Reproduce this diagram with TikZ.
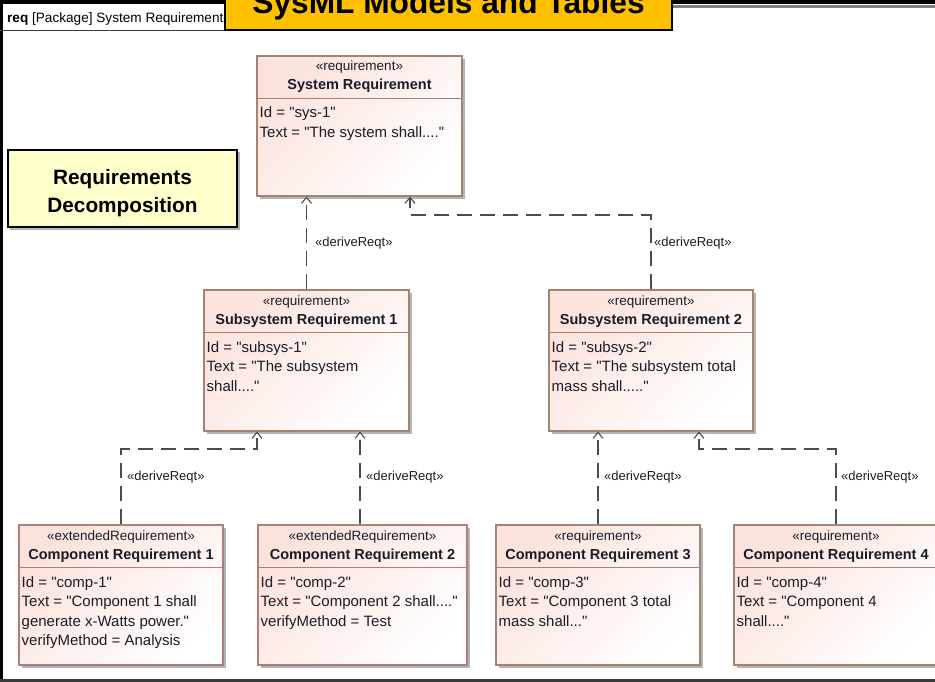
\documentclass[tikz,border=0pt]{standalone}
\usepackage{fontspec}
\setmainfont{Liberation Sans}[Ligatures=TeXOff]
\usetikzlibrary{arrows.meta,fit}

\definecolor{titleorange}{HTML}{FFC000}
\definecolor{noteyellow}{HTML}{FFFFCC}
\definecolor{reqpink}{HTML}{FCE2DC}
\definecolor{reqedge}{HTML}{A38472}
\definecolor{extedge}{HTML}{B27C7C}
\definecolor{shadowgrey}{HTML}{B4B4B4}
\definecolor{linkgrey}{HTML}{4C4C4C}
\definecolor{inkdark}{HTML}{1C1C26}
\definecolor{framegrey}{HTML}{3A3A3A}

\tikzset{
  reqshape/.style={draw=#1, line width=1.1pt, inner sep=0pt,
    left color=reqpink, right color=white, shading angle=45},
  stereo/.style={inner sep=0pt, text=inkdark, font=\fontsize{13.5}{15}\selectfont},
  reqname/.style={inner sep=0pt, text=inkdark, font=\bfseries\fontsize{14.5}{16}\selectfont},
  bodytext/.style={inner sep=0pt, text=inkdark, font=\fontsize{15}{18}\selectfont},
  linklabel/.style={inner sep=0pt, text=inkdark, font=\fontsize{13}{15}\selectfont},
  link/.style={draw=linkgrey, line width=1.1pt, dash pattern=on 15pt off 8pt,
    -{Straight Barb[length=6pt,width=10pt]}},
  notetext/.style={inner sep=0pt, font=\bfseries\fontsize{20.8}{24}\selectfont},
}

% one attribute line inside the current block; moves the baseline down
\newcommand\attrline[1]{%
  \node[bodytext, anchor=base west] (\blockid-l\attrk) at (\attrx,\attry) {#1};
  \pgfmathsetmacro\attry{\attry+19.5}%
  \pgfmathtruncatemacro\attrk{\attrk+1}%
}

% one requirement block: name, left, top, right, bottom, edge colour,
% stereotype, title, attribute lines (\attrline ...)
\newcommand\reqblock[9]{%
  \def\blockid{#1}%
  \fill[shadowgrey] (#2+3,#3+3) rectangle (#4+3,#5+3);
  \node[reqshape=#6, fit={(#2,#3) (#4,#5)}] (#1) {};
  \draw[draw=#6, line width=1.1pt] (#2,#3+42.5) -- (#4,#3+42.5);
  \node[stereo, anchor=base] (#1-st) at ({(#2+#4)/2},#3+15) {#7};
  \node[reqname, anchor=base] (#1-nm) at ({(#2+#4)/2},#3+34) {#8};
  \pgfmathsetmacro\attrx{#2+2.5}%
  \pgfmathsetmacro\attry{#3+62}%
  \def\attrk{1}%
  #9%
}

\begin{document}
\begin{tikzpicture}[x=1pt,y=-1pt]
  \useasboundingbox (0,0) rectangle (935,682);
  \fill[white] (0,0) rectangle (935,682);

  % diagram frame and header tab
  \draw[black, line width=4pt] (0,2) -- (935,2);
  \draw[gray, line width=3pt] (672,6.5) -- (935,6.5);
  \draw[black, line width=2.7pt] (1.3,0) -- (1.3,682);
  \draw[framegrey, line width=2.5pt] (0,680.5) -- (935,680.5);
  \draw[framegrey, line width=1pt] (0,31) -- (230,31);
  \node[anchor=base west, inner sep=0pt, font=\fontsize{13.6}{15}\selectfont] (hdr) at (7,23)
    {\textbf{req} [Package] System Requirement};

  % title banner
  \node[fill=titleorange, draw=black, line width=2pt, inner sep=0pt,
        fit={(225,-12) (672,30)}] (banner) {};
  \node[anchor=base, inner sep=0pt, font=\bfseries\fontsize{31.7}{34}\selectfont]
    (bannertext) at (448.5,14) {SysML Models and Tables};

  % note
  \fill[shadowgrey] (10,152) rectangle (239.5,229.5);
  \node[fill=noteyellow, draw=black, line width=1.5pt, inner sep=0pt,
        fit={(8,150) (237,227)}] (note) {};
  \node[notetext, anchor=base] (note1) at (122.5,184.5) {Requirements};
  \node[notetext, anchor=base] (note2) at (122.5,212.5) {Decomposition};

  % requirement blocks
  \reqblock{sys}{257}{56}{462}{196}{reqedge}{«requirement»}{System Requirement}
    {\attrline{Id = "sys-1"}\attrline{Text = "The system shall...."}}
  \reqblock{sub1}{204}{290}{409}{431}{reqedge}{«requirement»}{Subsystem Requirement 1}
    {\attrline{Id = "subsys-1"}\attrline{Text = "The subsystem}\attrline{shall...."}}
  \reqblock{sub2}{549}{290}{753}{431}{reqedge}{«requirement»}{Subsystem Requirement 2}
    {\attrline{Id = "subsys-2"}\attrline{Text = "The subsystem total}\attrline{mass shall....."}}
  \reqblock{comp1}{19}{525}{223}{665}{extedge}{«extendedRequirement»}{Component Requirement 1}
    {\attrline{Id = "comp-1"}\attrline{Text = "Component 1 shall}\attrline{generate x-Watts power."}\attrline{verifyMethod = Analysis}}
  \reqblock{comp2}{258}{525}{467}{665}{extedge}{«extendedRequirement»}{Component Requirement 2}
    {\attrline{Id = "comp-2"}\attrline{Text = "Component 2 shall...."}\attrline{verifyMethod = Test}}
  \reqblock{comp3}{496}{525}{700}{665}{reqedge}{«requirement»}{Component Requirement 3}
    {\attrline{Id = "comp-3"}\attrline{Text = "Component 3 total}\attrline{mass shall..."}}
  \reqblock{comp4}{734}{525}{938}{665}{reqedge}{«requirement»}{Component Requirement 4}
    {\attrline{Id = "comp-4"}\attrline{Text = "Component 4}\attrline{shall...."}}

  % bend points of the routed links
  \coordinate (bendA) at (410,215);
  \coordinate (bendB) at (257,449);
  \coordinate (bendC) at (699,449);

  % deriveReqt links
  \draw[link] (sub1.north) -- (sub1.north |- sys.south);
  \draw[link] (sub2.north) |- (bendA) -- (bendA |- sys.south);
  \draw[link] (comp1.north) |- (bendB) -- (bendB |- sub1.south);
  \draw[link] ([xshift=-2.5pt]comp2.north) -- ([xshift=-2.5pt]comp2.north |- sub1.south);
  \draw[link] (comp3.north) -- (comp3.north |- sub2.south);
  \draw[link] (comp4.north) |- (bendC) -- (bendC |- sub2.south);

  \node[linklabel, anchor=base west] (lab1) at (315,247) {«deriveReqt»};
  \node[linklabel, anchor=base west] (lab2) at (654,247) {«deriveReqt»};
  \node[linklabel, anchor=base west] (lab3) at (127,480) {«deriveReqt»};
  \node[linklabel, anchor=base west] (lab4) at (366,480) {«deriveReqt»};
  \node[linklabel, anchor=base west] (lab5) at (604,480) {«deriveReqt»};
  \node[linklabel, anchor=base west] (lab6) at (841,480) {«deriveReqt»};
\end{tikzpicture}
\end{document}
